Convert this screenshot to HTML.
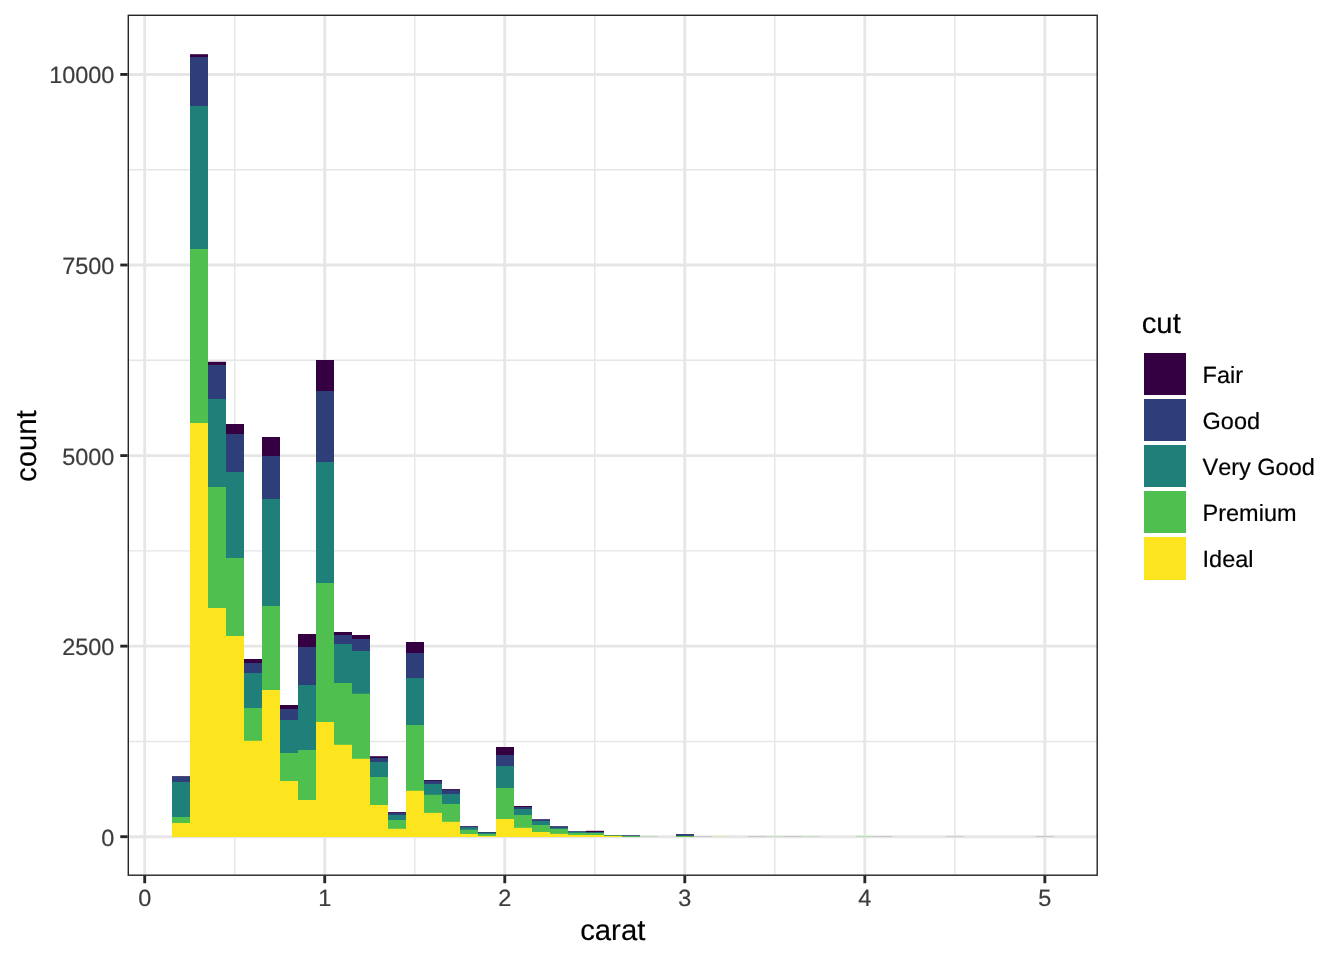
<!DOCTYPE html>
<html lang="en"><head><meta charset="utf-8"><title>carat histogram by cut</title>
<style>html,body{margin:0;padding:0;background:#fff;overflow:hidden}svg{display:block}text{font-family:"Liberation Sans",sans-serif;font-kerning:none;font-variant-ligatures:none;text-rendering:geometricPrecision}.ax{font-size:23.47px;fill:#3C3C3C;stroke:#3C3C3C;stroke-width:.2px}.ti{font-size:29.33px;fill:#000;stroke:#000;stroke-width:.15px}.lg{font-size:23.47px;fill:#000;stroke:#000;stroke-width:.2px}</style></head><body>
<svg width="1344" height="960" viewBox="0 0 1344 960">
<rect x="0" y="0" width="1344" height="960" fill="#fff"/>
<g stroke="#E6E6E6" fill="none">
<line x1="127.60" x2="1097.90" y1="741.42" y2="741.42" stroke-width="1.42"/>
<line x1="127.60" x2="1097.90" y1="550.86" y2="550.86" stroke-width="1.42"/>
<line x1="127.60" x2="1097.90" y1="360.29" y2="360.29" stroke-width="1.42"/>
<line x1="127.60" x2="1097.90" y1="169.73" y2="169.73" stroke-width="1.42"/>
<line x1="234.71" x2="234.71" y1="14.67" y2="875.90" stroke-width="1.42"/>
<line x1="414.75" x2="414.75" y1="14.67" y2="875.90" stroke-width="1.42"/>
<line x1="594.77" x2="594.77" y1="14.67" y2="875.90" stroke-width="1.42"/>
<line x1="774.81" x2="774.81" y1="14.67" y2="875.90" stroke-width="1.42"/>
<line x1="954.84" x2="954.84" y1="14.67" y2="875.90" stroke-width="1.42"/>
<line x1="127.60" x2="1097.90" y1="836.70" y2="836.70" stroke-width="2.85"/>
<line x1="127.60" x2="1097.90" y1="646.14" y2="646.14" stroke-width="2.85"/>
<line x1="127.60" x2="1097.90" y1="455.58" y2="455.58" stroke-width="2.85"/>
<line x1="127.60" x2="1097.90" y1="265.01" y2="265.01" stroke-width="2.85"/>
<line x1="127.60" x2="1097.90" y1="74.45" y2="74.45" stroke-width="2.85"/>
<line x1="144.70" x2="144.70" y1="14.67" y2="875.90" stroke-width="2.85"/>
<line x1="324.73" x2="324.73" y1="14.67" y2="875.90" stroke-width="2.85"/>
<line x1="504.76" x2="504.76" y1="14.67" y2="875.90" stroke-width="2.85"/>
<line x1="684.79" x2="684.79" y1="14.67" y2="875.90" stroke-width="2.85"/>
<line x1="864.82" x2="864.82" y1="14.67" y2="875.90" stroke-width="2.85"/>
<line x1="1044.85" x2="1044.85" y1="14.67" y2="875.90" stroke-width="2.85"/>
</g>
<g>
<rect x="172" y="776.30" width="18" height="60.70" fill="#340042"/>
<rect x="172" y="776.50" width="18" height="60.50" fill="#2D3E78"/>
<rect x="172" y="782.00" width="18" height="55.00" fill="#1F7F79"/>
<rect x="172" y="817.00" width="18" height="20.00" fill="#4FC050"/>
<rect x="172" y="823.00" width="18" height="14.00" fill="#FCE51E"/>
<rect x="190" y="54.20" width="18" height="782.80" fill="#340042"/>
<rect x="190" y="57.00" width="18" height="780.00" fill="#2D3E78"/>
<rect x="190" y="106.00" width="18" height="731.00" fill="#1F7F79"/>
<rect x="190" y="249.00" width="18" height="588.00" fill="#4FC050"/>
<rect x="190" y="423.00" width="18" height="414.00" fill="#FCE51E"/>
<rect x="208" y="361.75" width="18" height="475.25" fill="#340042"/>
<rect x="208" y="365.00" width="18" height="472.00" fill="#2D3E78"/>
<rect x="208" y="399.00" width="18" height="438.00" fill="#1F7F79"/>
<rect x="208" y="487.00" width="18" height="350.00" fill="#4FC050"/>
<rect x="208" y="608.00" width="18" height="229.00" fill="#FCE51E"/>
<rect x="226" y="424.00" width="18" height="413.00" fill="#340042"/>
<rect x="226" y="434.00" width="18" height="403.00" fill="#2D3E78"/>
<rect x="226" y="472.00" width="18" height="365.00" fill="#1F7F79"/>
<rect x="226" y="558.00" width="18" height="279.00" fill="#4FC050"/>
<rect x="226" y="636.00" width="18" height="201.00" fill="#FCE51E"/>
<rect x="244" y="659.00" width="18" height="178.00" fill="#340042"/>
<rect x="244" y="663.00" width="18" height="174.00" fill="#2D3E78"/>
<rect x="244" y="673.00" width="18" height="164.00" fill="#1F7F79"/>
<rect x="244" y="708.00" width="18" height="129.00" fill="#4FC050"/>
<rect x="244" y="740.80" width="18" height="96.20" fill="#FCE51E"/>
<rect x="262" y="437.00" width="18" height="400.00" fill="#340042"/>
<rect x="262" y="456.00" width="18" height="381.00" fill="#2D3E78"/>
<rect x="262" y="499.00" width="18" height="338.00" fill="#1F7F79"/>
<rect x="262" y="606.00" width="18" height="231.00" fill="#4FC050"/>
<rect x="262" y="690.00" width="18" height="147.00" fill="#FCE51E"/>
<rect x="280" y="705.00" width="18" height="132.00" fill="#340042"/>
<rect x="280" y="709.00" width="18" height="128.00" fill="#2D3E78"/>
<rect x="280" y="720.00" width="18" height="117.00" fill="#1F7F79"/>
<rect x="280" y="753.00" width="18" height="84.00" fill="#4FC050"/>
<rect x="280" y="781.00" width="18" height="56.00" fill="#FCE51E"/>
<rect x="298" y="634.00" width="18" height="203.00" fill="#340042"/>
<rect x="298" y="647.00" width="18" height="190.00" fill="#2D3E78"/>
<rect x="298" y="685.00" width="18" height="152.00" fill="#1F7F79"/>
<rect x="298" y="750.00" width="18" height="87.00" fill="#4FC050"/>
<rect x="298" y="800.00" width="18" height="37.00" fill="#FCE51E"/>
<rect x="316" y="360.00" width="18" height="477.00" fill="#340042"/>
<rect x="316" y="391.00" width="18" height="446.00" fill="#2D3E78"/>
<rect x="316" y="462.00" width="18" height="375.00" fill="#1F7F79"/>
<rect x="316" y="583.00" width="18" height="254.00" fill="#4FC050"/>
<rect x="316" y="722.00" width="18" height="115.00" fill="#FCE51E"/>
<rect x="334" y="632.00" width="18" height="205.00" fill="#340042"/>
<rect x="334" y="635.00" width="18" height="202.00" fill="#2D3E78"/>
<rect x="334" y="644.00" width="18" height="193.00" fill="#1F7F79"/>
<rect x="334" y="683.00" width="18" height="154.00" fill="#4FC050"/>
<rect x="334" y="744.80" width="18" height="92.20" fill="#FCE51E"/>
<rect x="352" y="635.00" width="18" height="202.00" fill="#340042"/>
<rect x="352" y="639.00" width="18" height="198.00" fill="#2D3E78"/>
<rect x="352" y="651.00" width="18" height="186.00" fill="#1F7F79"/>
<rect x="352" y="693.70" width="18" height="143.30" fill="#4FC050"/>
<rect x="352" y="758.80" width="18" height="78.20" fill="#FCE51E"/>
<rect x="370" y="756.20" width="18" height="80.80" fill="#340042"/>
<rect x="370" y="758.00" width="18" height="79.00" fill="#2D3E78"/>
<rect x="370" y="762.00" width="18" height="75.00" fill="#1F7F79"/>
<rect x="370" y="777.00" width="18" height="60.00" fill="#4FC050"/>
<rect x="370" y="805.00" width="18" height="32.00" fill="#FCE51E"/>
<rect x="388" y="812.10" width="18" height="24.90" fill="#340042"/>
<rect x="388" y="813.00" width="18" height="24.00" fill="#2D3E78"/>
<rect x="388" y="815.00" width="18" height="22.00" fill="#1F7F79"/>
<rect x="388" y="820.00" width="18" height="17.00" fill="#4FC050"/>
<rect x="388" y="828.80" width="18" height="8.20" fill="#FCE51E"/>
<rect x="406" y="642.00" width="18" height="195.00" fill="#340042"/>
<rect x="406" y="653.00" width="18" height="184.00" fill="#2D3E78"/>
<rect x="406" y="678.00" width="18" height="159.00" fill="#1F7F79"/>
<rect x="406" y="725.00" width="18" height="112.00" fill="#4FC050"/>
<rect x="406" y="790.80" width="18" height="46.20" fill="#FCE51E"/>
<rect x="424" y="780.00" width="18" height="57.00" fill="#340042"/>
<rect x="424" y="780.80" width="18" height="56.20" fill="#2D3E78"/>
<rect x="424" y="784.00" width="18" height="53.00" fill="#1F7F79"/>
<rect x="424" y="794.80" width="18" height="42.20" fill="#4FC050"/>
<rect x="424" y="812.90" width="18" height="24.10" fill="#FCE51E"/>
<rect x="442" y="789.10" width="18" height="47.90" fill="#340042"/>
<rect x="442" y="790.10" width="18" height="46.90" fill="#2D3E78"/>
<rect x="442" y="794.00" width="18" height="43.00" fill="#1F7F79"/>
<rect x="442" y="803.90" width="18" height="33.10" fill="#4FC050"/>
<rect x="442" y="821.80" width="18" height="15.20" fill="#FCE51E"/>
<rect x="460" y="826.20" width="18" height="10.80" fill="#340042"/>
<rect x="460" y="826.70" width="18" height="10.30" fill="#2D3E78"/>
<rect x="460" y="827.30" width="18" height="9.70" fill="#1F7F79"/>
<rect x="460" y="829.80" width="18" height="7.20" fill="#4FC050"/>
<rect x="460" y="834.00" width="18" height="3.00" fill="#FCE51E"/>
<rect x="478" y="832.10" width="18" height="4.90" fill="#340042"/>
<rect x="478" y="832.30" width="18" height="4.70" fill="#2D3E78"/>
<rect x="478" y="832.70" width="18" height="4.30" fill="#1F7F79"/>
<rect x="478" y="834.00" width="18" height="3.00" fill="#4FC050"/>
<rect x="478" y="836.00" width="18" height="1.00" fill="#FCE51E"/>
<rect x="496" y="747.00" width="18" height="90.00" fill="#340042"/>
<rect x="496" y="755.00" width="18" height="82.00" fill="#2D3E78"/>
<rect x="496" y="766.00" width="18" height="71.00" fill="#1F7F79"/>
<rect x="496" y="788.00" width="18" height="49.00" fill="#4FC050"/>
<rect x="496" y="819.00" width="18" height="18.00" fill="#FCE51E"/>
<rect x="514" y="806.00" width="18" height="31.00" fill="#340042"/>
<rect x="514" y="807.00" width="18" height="30.00" fill="#2D3E78"/>
<rect x="514" y="809.00" width="18" height="28.00" fill="#1F7F79"/>
<rect x="514" y="815.00" width="18" height="22.00" fill="#4FC050"/>
<rect x="514" y="827.80" width="18" height="9.20" fill="#FCE51E"/>
<rect x="532" y="819.30" width="18" height="17.70" fill="#340042"/>
<rect x="532" y="819.60" width="18" height="17.40" fill="#2D3E78"/>
<rect x="532" y="821.00" width="18" height="16.00" fill="#1F7F79"/>
<rect x="532" y="825.00" width="18" height="12.00" fill="#4FC050"/>
<rect x="532" y="832.00" width="18" height="5.00" fill="#FCE51E"/>
<rect x="550" y="826.30" width="18" height="10.70" fill="#340042"/>
<rect x="550" y="826.50" width="18" height="10.50" fill="#2D3E78"/>
<rect x="550" y="827.80" width="18" height="9.20" fill="#1F7F79"/>
<rect x="550" y="829.00" width="18" height="8.00" fill="#4FC050"/>
<rect x="550" y="833.90" width="18" height="3.10" fill="#FCE51E"/>
<rect x="568" y="831.40" width="18" height="5.60" fill="#340042"/>
<rect x="568" y="831.45" width="18" height="5.55" fill="#2D3E78"/>
<rect x="568" y="831.70" width="18" height="5.30" fill="#1F7F79"/>
<rect x="568" y="832.90" width="18" height="4.10" fill="#4FC050"/>
<rect x="568" y="835.00" width="18" height="2.00" fill="#FCE51E"/>
<rect x="586" y="830.80" width="18" height="6.20" fill="#340042"/>
<rect x="586" y="832.00" width="18" height="5.00" fill="#2D3E78"/>
<rect x="586" y="832.40" width="18" height="4.60" fill="#1F7F79"/>
<rect x="586" y="833.00" width="18" height="4.00" fill="#4FC050"/>
<rect x="586" y="835.00" width="18" height="2.00" fill="#FCE51E"/>
<rect x="604" y="835.00" width="18" height="2.00" fill="#340042"/>
<rect x="604" y="835.10" width="18" height="1.90" fill="#2D3E78"/>
<rect x="604" y="835.30" width="18" height="1.70" fill="#1F7F79"/>
<rect x="604" y="835.50" width="18" height="1.50" fill="#4FC050"/>
<rect x="604" y="835.90" width="18" height="1.10" fill="#FCE51E"/>
<rect x="622" y="835.50" width="18" height="1.50" fill="#340042"/>
<rect x="622" y="835.50" width="18" height="1.50" fill="#2D3E78"/>
<rect x="622" y="836.00" width="18" height="1.00" fill="#1F7F79"/>
<rect x="622" y="836.10" width="18" height="0.90" fill="#4FC050"/>
<rect x="676" y="834.20" width="18" height="2.80" fill="#340042"/>
<rect x="676" y="834.40" width="18" height="2.60" fill="#2D3E78"/>
<rect x="676" y="835.80" width="18" height="1.20" fill="#1F7F79"/>
<rect x="676" y="836.00" width="18" height="1.00" fill="#4FC050"/>
<rect x="676" y="836.90" width="18" height="0.10" fill="#FCE51E"/>
</g>
<g>
<rect x="640" y="836.1" width="18" height="0.9" fill="#4FC050" opacity="0.30"/>
<rect x="694" y="836.1" width="18" height="0.9" fill="#2D3E78" opacity="0.18"/>
<rect x="712" y="836.1" width="18" height="0.9" fill="#FCE51E" opacity="0.20"/>
<rect x="748" y="836.1" width="18" height="0.9" fill="#340042" opacity="0.15"/>
<rect x="766" y="836.1" width="18" height="0.9" fill="#4FC050" opacity="0.20"/>
<rect x="784" y="836.1" width="18" height="0.9" fill="#340042" opacity="0.15"/>
<rect x="802" y="836.1" width="18" height="0.9" fill="#4FC050" opacity="0.20"/>
<rect x="856" y="836.1" width="18" height="0.9" fill="#4FC050" opacity="0.35"/>
<rect x="874" y="836.1" width="18" height="0.9" fill="#340042" opacity="0.15"/>
<rect x="946" y="836.1" width="18" height="0.9" fill="#340042" opacity="0.12"/>
<rect x="1036" y="836.1" width="18" height="0.9" fill="#340042" opacity="0.15"/>
</g>
<rect x="128.3" y="15.3" width="968.90" height="859.90" fill="none" stroke="#262626" stroke-width="1.42"/>
<g stroke="#262626" stroke-width="2.85">
<line x1="144.70" x2="144.70" y1="875.90" y2="883.23"/>
<line x1="324.73" x2="324.73" y1="875.90" y2="883.23"/>
<line x1="504.76" x2="504.76" y1="875.90" y2="883.23"/>
<line x1="684.79" x2="684.79" y1="875.90" y2="883.23"/>
<line x1="864.82" x2="864.82" y1="875.90" y2="883.23"/>
<line x1="1044.85" x2="1044.85" y1="875.90" y2="883.23"/>
<line x1="120.27" x2="127.60" y1="836.70" y2="836.70"/>
<line x1="120.27" x2="127.60" y1="646.14" y2="646.14"/>
<line x1="120.27" x2="127.60" y1="455.58" y2="455.58"/>
<line x1="120.27" x2="127.60" y1="265.01" y2="265.01"/>
<line x1="120.27" x2="127.60" y1="74.45" y2="74.45"/>
</g>
<g class="ax" text-anchor="end">
<text x="114.4" y="846.00">0</text>
<text x="114.4" y="655.00">2500</text>
<text x="114.4" y="465.00">5000</text>
<text x="114.4" y="274.00">7500</text>
<text x="114.4" y="83.00">10000</text>
</g>
<g class="ax" text-anchor="middle">
<text x="144.70" y="905.7">0</text>
<text x="324.73" y="905.7">1</text>
<text x="504.76" y="905.7">2</text>
<text x="684.79" y="905.7">3</text>
<text x="864.82" y="905.7">4</text>
<text x="1044.85" y="905.7">5</text>
</g>
<text class="ti" text-anchor="middle" x="612.75" y="939.6">carat</text>
<text class="ti" text-anchor="middle" transform="translate(35.5 446.1) rotate(-90)">count</text>
<text class="ti" x="1141.7" y="333.3">cut</text>
<rect x="1144" y="353" width="42" height="42" fill="#340042"/>
<text class="lg" x="1202.6" y="382.69">Fair</text>
<rect x="1144" y="399" width="42" height="42" fill="#2D3E78"/>
<text class="lg" x="1202.6" y="428.77">Good</text>
<rect x="1144" y="445" width="42" height="42" fill="#1F7F79"/>
<text class="lg" x="1202.6" y="474.85">Very Good</text>
<rect x="1144" y="491" width="42" height="42" fill="#4FC050"/>
<text class="lg" x="1202.6" y="520.93">Premium</text>
<rect x="1144" y="537" width="42" height="43" fill="#FCE51E"/>
<text class="lg" x="1202.6" y="567.01">Ideal</text>
</svg></body></html>
